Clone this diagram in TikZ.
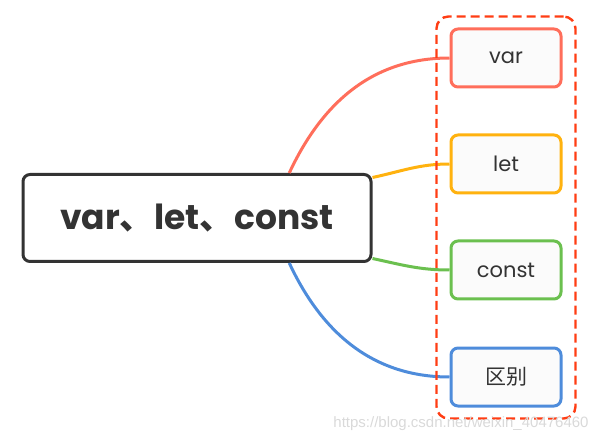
\documentclass[tikz,border=0pt]{standalone}
\usepackage{fontspec}
\setmainfont{Poppins}
\newfontfamily\cjk{Noto Sans CJK SC}
\newfontfamily\markfont{Liberation Sans}
\usetikzlibrary{fit}
\definecolor{dark}{HTML}{333333}
\definecolor{cvar}{HTML}{FF6E5B}
\definecolor{clet}{HTML}{FFB20F}
\definecolor{cconst}{HTML}{6BC04F}
\definecolor{cdiff}{HTML}{4E8CDB}
\definecolor{cframe}{HTML}{FF3D14}
\definecolor{boxfill}{HTML}{FBFBFB}
\begin{document}
\begin{tikzpicture}[x=1pt,y=1pt,
    root/.style={draw=dark, line width=3pt, rounded corners=7pt, fill=white, text=dark,
        minimum width=348pt, minimum height=87pt, font=\fontsize{34.5}{34.5}\selectfont\bfseries},
    leaf/.style={draw=#1, line width=3pt, rounded corners=7pt, fill=boxfill, text=dark,
        minimum width=110pt, minimum height=58pt, font=\fontsize{21}{21}\selectfont},
    link/.style={draw=#1, line width=3pt}]
    \useasboundingbox (0,0) rectangle (606,-441);
    \node[root] (root) at (197,-218) {var{\cjk 、}let{\cjk 、}const};
    \foreach \nm/\txt/\col/\y in {nvar/var/cvar/58,nlet/let/clet/164,nconst/const/cconst/270,ndiff/{\cjk 区别}/cdiff/377} {
        \node[leaf=\col] (\nm) at (506,-\y) {\txt};
    }
    \foreach \nm/\col/\a/\o in {nvar/cvar/26/65,nlet/clet/13/12,nconst/cconst/-13/-12,ndiff/cdiff/-26/-65} {
        \draw[link=\col] (root.\a) to[out=\o,in=180] (\nm.west);
    }
    \node[draw=cframe, line width=2.4pt, dash pattern=on 9pt off 5pt, rounded corners=12pt,
        inner xsep=13pt, inner ysep=11pt, fit=(nvar)(ndiff)] (frame) {};
    \node[font=\markfont\fontsize{15}{15}\selectfont, text=black!15] (mark) at (461,-424) {https://blog.csdn.net/weixin\_40476460};
\end{tikzpicture}
\end{document}
